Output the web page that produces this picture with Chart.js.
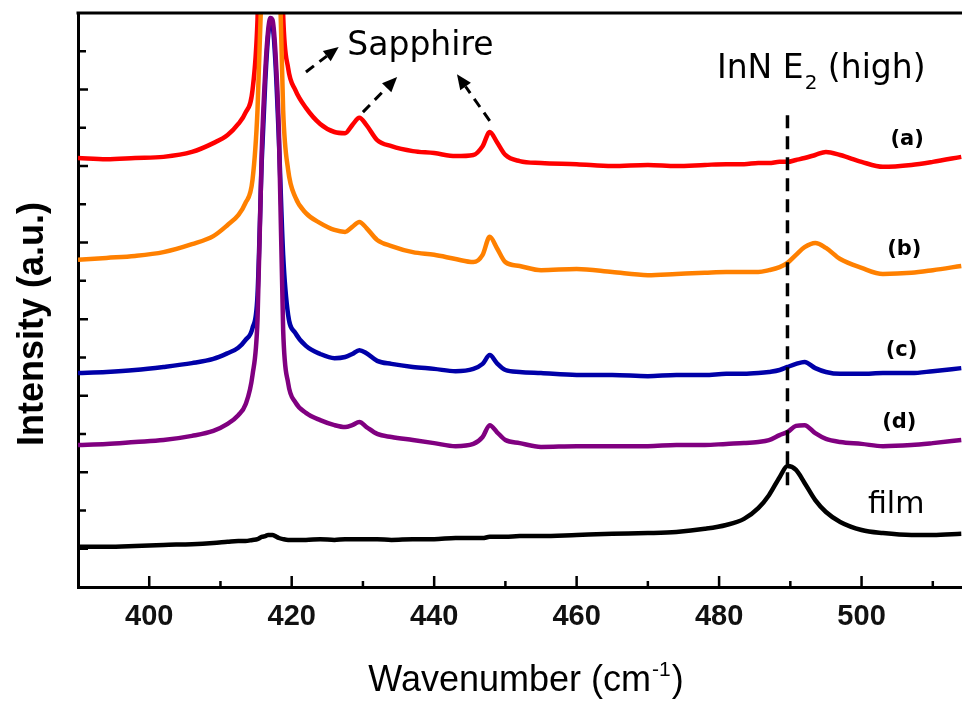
<!DOCTYPE html>
<html>
<head>
<meta charset="utf-8">
<script src="https://cdn.jsdelivr.net/npm/chart.js@4.4.0/dist/chart.umd.min.js"></script>
<style>
  html, body { margin: 0; padding: 0; background: #fff; }
  canvas { display: block; }
</style>
</head>
<body>
<canvas id="raman" width="962" height="702"></canvas>
<script>
/* Raman spectra, InN on sapphire – curves offset vertically */

// shared x grid (cm-1), denser around the sapphire / InN peaks
const wavenumber = [390, 394, 398, 402, 406, 409, 411, 412.5, 413.5, 414.5,
  415.2, 415.8, 416.3, 416.7, 417, 417.3, 417.7, 418.2, 418.8, 419.5,
  420.5, 422, 424, 426, 427.5, 428.5, 429.5, 430.5, 432, 434,
  437, 440, 443, 445.5, 446.8, 447.8, 448.8, 450, 452, 455,
  460, 465, 470, 474, 478, 481, 483.5, 485.5, 487, 488.5,
  489.6, 490.8, 492, 493.5, 495, 497, 500, 503, 507, 510, 514];

// intensities (a.u., already offset)
const sampleA = [11.21, 11.18, 11.21, 11.24, 11.37, 11.60, 11.81, 12.10, 12.39, 12.99,
  14.82, 19.26, 23.18, 25.79, 27.10, 26.58, 23.96, 20.04, 14.95, 13.56,
  12.99, 12.52, 12.10, 11.89, 11.86, 12.07, 12.26, 12.07, 11.68, 11.52,
  11.39, 11.34, 11.26, 11.29, 11.52, 11.89, 11.63, 11.29, 11.13, 11.08,
  11.05, 11.00, 11.03, 11.00, 11.03, 11.05, 11.05, 11.08, 11.08, 11.11,
  11.11, 11.16, 11.21, 11.29, 11.37, 11.29, 11.11, 10.98, 11.03, 11.11, 11.24];

const sampleB = [8.55, 8.60, 8.65, 8.75, 8.96, 9.17, 9.46, 9.72, 10.03, 10.64,
  12.46, 15.86, 19.26, 21.87, 23.18, 22.66, 20.57, 16.91, 12.46, 10.90,
  10.19, 9.77, 9.51, 9.33, 9.28, 9.41, 9.54, 9.38, 9.07, 8.91,
  8.75, 8.68, 8.57, 8.49, 8.68, 9.15, 8.86, 8.49, 8.39, 8.28,
  8.31, 8.23, 8.15, 8.18, 8.21, 8.23, 8.23, 8.23, 8.28, 8.36,
  8.47, 8.68, 8.88, 8.99, 8.86, 8.57, 8.34, 8.18, 8.21, 8.28, 8.39];

const sampleC = [5.59, 5.62, 5.67, 5.75, 5.85, 5.96, 6.11, 6.25, 6.45, 6.77,
  7.63, 11.16, 13.25, 14.42, 14.76, 14.69, 13.77, 11.68, 8.68, 7.11,
  6.64, 6.30, 6.09, 5.98, 6.01, 6.09, 6.19, 6.11, 5.91, 5.83,
  5.75, 5.70, 5.64, 5.70, 5.83, 6.06, 5.85, 5.67, 5.62, 5.59,
  5.54, 5.54, 5.51, 5.54, 5.54, 5.57, 5.57, 5.59, 5.62, 5.67,
  5.75, 5.83, 5.88, 5.72, 5.62, 5.57, 5.57, 5.59, 5.59, 5.64, 5.72];

const sampleD = [3.71, 3.74, 3.79, 3.84, 3.95, 4.08, 4.26, 4.49, 4.76, 5.54,
  6.98, 11.42, 13.51, 14.56, 14.87, 14.82, 14.03, 11.94, 6.72, 5.33,
  4.83, 4.55, 4.36, 4.23, 4.18, 4.23, 4.31, 4.18, 4.00, 3.92,
  3.84, 3.76, 3.68, 3.74, 3.92, 4.23, 4.05, 3.84, 3.76, 3.66,
  3.68, 3.68, 3.68, 3.71, 3.71, 3.74, 3.76, 3.79, 3.84, 3.97,
  4.05, 4.21, 4.23, 4.02, 3.87, 3.79, 3.74, 3.68, 3.71, 3.76, 3.84];

const film = [1.05, 1.05, 1.07, 1.10, 1.12, 1.15, 1.18, 1.20, 1.20, 1.23,
  1.25, 1.31, 1.33, 1.36, 1.36, 1.36, 1.33, 1.28, 1.25, 1.23,
  1.23, 1.23, 1.25, 1.23, 1.25, 1.25, 1.25, 1.25, 1.25, 1.23,
  1.25, 1.25, 1.28, 1.28, 1.28, 1.31, 1.31, 1.31, 1.33, 1.33,
  1.36, 1.39, 1.41, 1.44, 1.52, 1.62, 1.78, 2.06, 2.40, 2.87,
  3.16, 3.06, 2.72, 2.27, 1.96, 1.70, 1.49, 1.41, 1.36, 1.36, 1.39];

const curveLabels = ['(a)', '(b)', '(c)', '(d)', 'film'];
const xTicks = [400, 420, 440, 460, 480, 500];
const xMinorTicks = [410, 430, 450, 470, 490, 510];
const yTicks = [1, 2, 3, 4, 5, 6, 7, 8, 9, 10, 11, 12, 13, 14];

const e2Peak = 489.6;

// where the annotations sit, in data units
const labelSpots = [[506.4, 11.68], [506.0, 8.81], [505.6, 6.19], [505.3, 4.29], [500.9, 1.93]];
const sapphireArrows = [[422.0, 13.46, 426.6, 14.11], [430.0, 12.41, 434.8, 13.33], [447.8, 12.18, 443.2, 13.40]];

const toPoints = vals => wavenumber.map((w, i) => ({ x: w, y: vals[i] }));

function arrow(ctx, x0, y0, x1, y1) {
    const ang = Math.atan2(y1 - y0, x1 - x0);
    const head = 15, half = 6.5;
    const bx = x1 - head * Math.cos(ang), by = y1 - head * Math.sin(ang);
    ctx.setLineDash([10, 7]);
    ctx.beginPath();
    ctx.moveTo(x0, y0);
    ctx.lineTo(bx, by);
    ctx.stroke();
    ctx.setLineDash([]);
    ctx.beginPath();
    ctx.moveTo(x1, y1);
    ctx.lineTo(bx + half * Math.sin(ang), by - half * Math.cos(ang));
    ctx.lineTo(bx - half * Math.sin(ang), by + half * Math.cos(ang));
    ctx.closePath();
    ctx.fill();
}

const decorations = {
    id: 'decorations',
    afterDraw(chart) {
        const { ctx, chartArea: area } = chart;
        const xs = chart.scales.x, ys = chart.scales.y;
        ctx.save();

        /* ---- frame top + inward ticks ---- */
        ctx.strokeStyle = '#000';
        ctx.fillStyle = '#000';
        ctx.lineWidth = 3;
        ctx.beginPath();
        ctx.moveTo(area.left - 1.5, area.top);
        ctx.lineTo(area.right, area.top);
        ctx.stroke();

        ctx.lineWidth = 2.5;
        ctx.beginPath();
        xTicks.forEach(v => {
            const p = xs.getPixelForValue(v);
            ctx.moveTo(p, area.bottom); ctx.lineTo(p, area.bottom - 11);
        });
        xMinorTicks.forEach(v => {
            const p = xs.getPixelForValue(v);
            ctx.moveTo(p, area.bottom); ctx.lineTo(p, area.bottom - 6);
        });
        yTicks.forEach(v => {
            const p = ys.getPixelForValue(v);
            ctx.moveTo(area.left, p); ctx.lineTo(area.left + (v % 2 ? 10 : 8), p);
        });
        ctx.stroke();

        /* ---- InN E2(high) marker ---- */
        ctx.lineWidth = 3.5;
        ctx.setLineDash([13, 8]);
        ctx.beginPath();
        ctx.moveTo(xs.getPixelForValue(e2Peak), ys.getPixelForValue(12.33));
        ctx.lineTo(xs.getPixelForValue(e2Peak), ys.getPixelForValue(2.53));
        ctx.stroke();
        ctx.setLineDash([]);

        /* ---- sapphire arrows ---- */
        ctx.lineWidth = 3;
        sapphireArrows.forEach(a => arrow(ctx,
            xs.getPixelForValue(a[0]), ys.getPixelForValue(a[1]),
            xs.getPixelForValue(a[2]), ys.getPixelForValue(a[3])));

        /* ---- texts ---- */
        ctx.textBaseline = 'alphabetic';
        ctx.textAlign = 'left';
        ctx.font = '33px "DejaVu Sans"';
        ctx.fillText('Sapphire', xs.getPixelForValue(427.8), ys.getPixelForValue(13.90));

        let tx = xs.getPixelForValue(479.7), ty = ys.getPixelForValue(13.30);
        ctx.fillText('InN E', tx, ty);
        tx += ctx.measureText('InN E').width;
        ctx.font = '20px "DejaVu Sans"';
        ctx.fillText('2', tx + 1, ty + 11);
        tx += ctx.measureText('2').width + 1;
        ctx.font = '33px "DejaVu Sans"';
        ctx.fillText(' (high)', tx, ty);

        ctx.font = 'bold 21px "DejaVu Sans"';
        ctx.textAlign = 'center';
        ctx.textBaseline = 'middle';
        curveLabels.slice(0, 4).forEach((t, i) => {
            ctx.fillText(t, xs.getPixelForValue(labelSpots[i][0]), ys.getPixelForValue(labelSpots[i][1]));
        });
        ctx.font = '30px "DejaVu Sans"';
        ctx.textAlign = 'left';
        ctx.textBaseline = 'alphabetic';
        ctx.fillText(curveLabels[4], xs.getPixelForValue(labelSpots[4][0]), ys.getPixelForValue(labelSpots[4][1]));

        /* ---- axis titles ---- */
        ctx.save();
        ctx.translate(43, (area.top + area.bottom) / 2 + 24);
        ctx.rotate(-Math.PI / 2);
        ctx.textAlign = 'center';
        ctx.font = 'bold 36px "Liberation Sans"';
        ctx.fillText('Intensity (a.u.)', 0, 0);
        ctx.restore();

        const main = 'Wavenumber (cm', sup = '-1', tail = ')';
        ctx.font = '36px "Liberation Sans"';
        const wMain = ctx.measureText(main).width, wTail = ctx.measureText(tail).width;
        ctx.font = '21px "Liberation Sans"';
        const wSup = ctx.measureText(sup).width;
        let sx = (area.left + area.right) / 2 + 6 - (wMain + wSup + wTail + 2) / 2;
        const sy = 691;
        ctx.font = '36px "Liberation Sans"';
        ctx.fillText(main, sx, sy);
        sx += wMain + 1;
        ctx.font = '21px "Liberation Sans"';
        ctx.fillText(sup, sx, sy - 15);
        sx += wSup + 1;
        ctx.font = '36px "Liberation Sans"';
        ctx.fillText(tail, sx, sy);

        ctx.restore();
    }
};

const series = [
    { data: sampleA, color: '#ff0000', order: 3 },
    { data: sampleB, color: '#ff8000', order: 2 },
    { data: sampleC, color: '#0000a8', order: 1 },
    { data: sampleD, color: '#800080', order: 0 },
    { data: film,    color: '#000000', order: 4 }
];

new Chart(document.getElementById('raman'), {
    type: 'line',
    data: {
        datasets: series.map((s, i) => ({
            label: curveLabels[i],
            data: toPoints(s.data),
            borderColor: s.color,
            borderWidth: 4.5,
            borderJoinStyle: 'round',
            cubicInterpolationMode: 'monotone',
            pointRadius: 0,
            fill: false,
            order: s.order
        }))
    },
    options: {
        responsive: false,
        animation: false,
        devicePixelRatio: 1,
        layout: { padding: { top: 13, right: 0, bottom: 0, left: 0 } },
        plugins: { legend: { display: false }, tooltip: { enabled: false } },
        scales: {
            x: {
                type: 'linear',
                min: 390,
                max: 514.1,
                grid: { display: false },
                border: { display: true, color: '#000', width: 3 },
                afterBuildTicks: s => { s.ticks = xTicks.map(v => ({ value: v })); },
                afterFit: s => { s.height = 115; },
                ticks: {
                    color: '#111',
                    padding: 5,
                    maxRotation: 0,
                    font: { family: 'Liberation Sans', size: 29, weight: 'bold' }
                }
            },
            y: {
                type: 'linear',
                min: 0,
                max: 15,
                grid: { display: false },
                border: { display: true, color: '#000', width: 3 },
                afterBuildTicks: s => { s.ticks = yTicks.map(v => ({ value: v })); },
                afterFit: s => { s.width = 78; },
                ticks: { display: false }
            }
        }
    },
    plugins: [decorations]
});
</script>
</body>
</html>
